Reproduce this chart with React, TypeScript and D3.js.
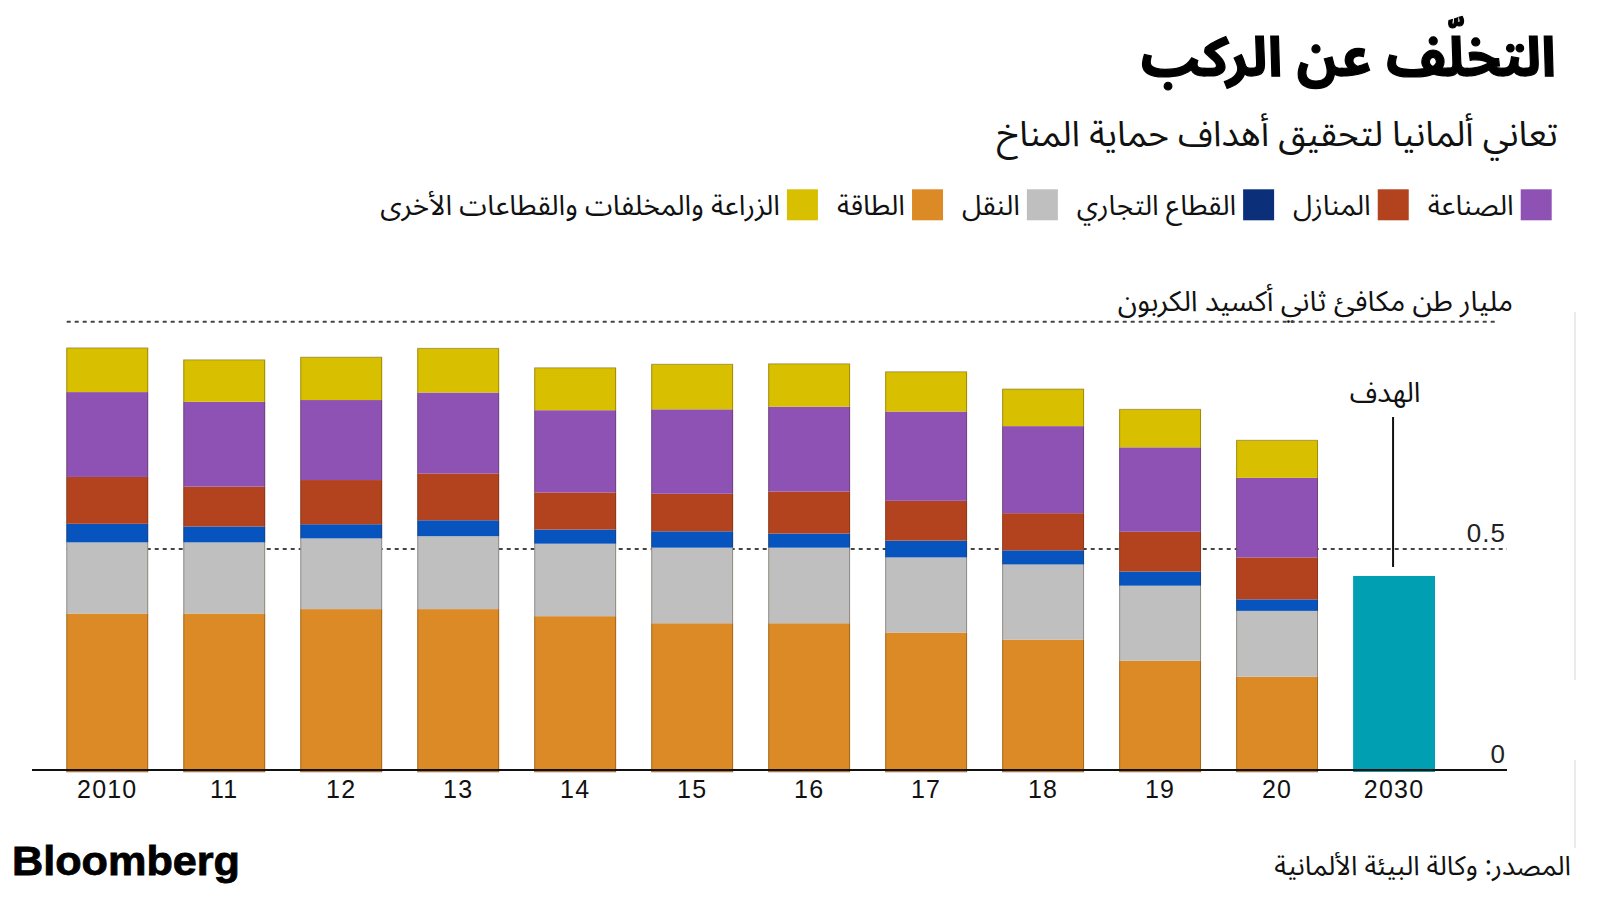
import React from "react";
import * as d3 from "d3";

const years = ["2010", "11", "12", "13", "14", "15", "16", "17", "18", "19", "20"];
const targetYear = "2030";
const targetValue = 0.439;

const energy = [0.354, 0.354, 0.364, 0.364, 0.348, 0.332, 0.332, 0.311, 0.295, 0.247, 0.211];
const transport = [0.161, 0.161, 0.16, 0.165, 0.164, 0.171, 0.171, 0.17, 0.17, 0.17, 0.149];
const commercial = [0.042, 0.036, 0.032, 0.036, 0.032, 0.037, 0.032, 0.038, 0.032, 0.032, 0.026];
const households = [0.106, 0.09, 0.1, 0.106, 0.084, 0.085, 0.095, 0.09, 0.084, 0.09, 0.095];
const industry = [0.192, 0.192, 0.181, 0.183, 0.186, 0.191, 0.192, 0.202, 0.197, 0.191, 0.18];
const agriculture = [0.1, 0.095, 0.097, 0.1, 0.096, 0.102, 0.097, 0.09, 0.084, 0.086, 0.085];

const seriesKeys = ["energy", "transport", "commercial", "households", "industry", "agriculture"];
const seriesValues: Record<string, number[]> = { energy, transport, commercial, households, industry, agriculture };

const legendOrder = ["industry", "households", "commercial", "transport", "energy", "agriculture"];
const legendLabels: Record<string, string> = {
  industry: "الصناعة",
  households: "المنازل",
  commercial: "القطاع التجاري",
  transport: "النقل",
  energy: "الطاقة",
  agriculture: "الزراعة والمخلفات والقطاعات الأخرى",
};

const yTicks = [0, 0.5];
const topRuleValue = 1.014;

const title = "التخلّف عن الركب";
const subtitle = "تعاني ألمانيا لتحقيق أهداف حماية المناخ";
const unitLabel = "مليار طن مكافئ ثاني أكسيد الكربون";
const targetLabel = "الهدف";
const sourceText = "المصدر: وكالة البيئة الألمانية";

const barColors: Record<string, string> = {
  energy: "#db8a25",
  transport: "#bfbfbf",
  commercial: "#0754be",
  households: "#b3431f",
  industry: "#8e52b5",
  agriculture: "#d8bf00",
};
const legendColors: Record<string, string> = { ...barColors, commercial: "#0b2f78" };
const targetColor = "#00a0b2";

const AR = "'Noto Sans Arabic', 'DejaVu Sans', sans-serif";
const NUM = "'Liberation Sans', Arial, Helvetica, sans-serif";

function measure(text: string, font: string): number {
  if (typeof document === "undefined") return text.length * 12;
  const c = document.createElement("canvas");
  const ctx = c.getContext("2d")!;
  ctx.font = font;
  return ctx.measureText(text).width;
}

export default function App() {
  const W = 1600;
  const H = 900;

  const rows = years.map((y, i) => {
    const r: any = { year: y };
    seriesKeys.forEach((k) => (r[k] = seriesValues[k][i]));
    return r;
  });
  const stacked = d3.stack().keys(seriesKeys)(rows);

  const x = d3
    .scaleBand<string>()
    .domain([...years, targetYear])
    .range([66.3, 1435])
    .paddingInner(0.3)
    .paddingOuter(0);
  const y = d3.scaleLinear().domain([0, 0.5]).range([770, 549]);

  // legend layout, right to left
  const legendFontSize = 28;
  const legendFont = `${legendFontSize}px ${AR}`;
  let right = 1551.7;
  const legendItems = legendOrder.map((k) => {
    const sw = 31;
    const sx = right - sw;
    const tx = sx - 7;
    const tw = measure(legendLabels[k], legendFont);
    right = tx - tw - 19;
    return { k, sx, tx };
  });

  return (
    <svg
      width={W}
      height={H}
      style={{ position: "absolute", left: 0, top: 0, background: "#fff" }}
    >
      <rect x={0} y={0} width={W} height={H} fill="#fff" />

      {/* title */}
      <text x={1556} y={76} textAnchor="end" fontFamily={AR} fontWeight={700} fontSize={55} fill="#000" stroke="#000" strokeWidth={1.2}>
        {title}
      </text>
      <text x={1558} y={146} textAnchor="end" fontFamily={AR} fontSize={35.5} fill="#111">
        {subtitle}
      </text>

      {/* legend */}
      {legendItems.map((it) => (
        <g key={it.k}>
          <rect x={it.sx} y={189.3} width={31} height={31} fill={legendColors[it.k]} />
          <text x={it.tx} y={215} textAnchor="end" fontFamily={AR} fontSize={legendFontSize} fill="#111">
            {legendLabels[it.k]}
          </text>
        </g>
      ))}

      {/* unit label */}
      <text x={1513} y={311} textAnchor="end" fontFamily={AR} fontSize={28.5} fill="#111">
        {unitLabel}
      </text>

      {/* grid rules */}
      <line
        x1={66.7}
        x2={1498}
        y1={y(topRuleValue)}
        y2={y(topRuleValue)}
        stroke="#444"
        strokeWidth={2}
        strokeDasharray="4,4"
      />
      <line x1={66.7} x2={1507} y1={y(0.5)} y2={y(0.5)} stroke="#444" strokeWidth={2} strokeDasharray="4,4" />

      {/* stacked bars */}
      {stacked.map((layer: any) => (
        <g key={layer.key}>
          {layer.map((d: any) => (
            <rect
              key={d.data.year}
              x={x(d.data.year)}
              y={y(d[1])}
              width={x.bandwidth()}
              height={y(d[0]) - y(d[1]) + (d[0] === 0 ? 2 : 0)}
              fill={barColors[layer.key]}
            />
          ))}
        </g>
      ))}
      {rows.map((r: any, i: number) => {
        const top = stacked[stacked.length - 1][i][1];
        return (
          <rect
            key={"o" + r.year}
            x={x(r.year)! + 0.5}
            y={y(top)}
            width={x.bandwidth() - 1}
            height={y(0) - y(top) + 2}
            fill="none"
            stroke="rgba(60,40,20,0.35)"
            strokeWidth={1}
          />
        );
      })}

      {/* target bar */}
      <rect
        x={x(targetYear)}
        y={y(targetValue)}
        width={x.bandwidth()}
        height={y(0) - y(targetValue) + 2}
        fill={targetColor}
      />
      <line
        x1={x(targetYear)! + x.bandwidth() / 2 - 1}
        x2={x(targetYear)! + x.bandwidth() / 2 - 1}
        y1={417}
        y2={y(targetValue) - 9}
        stroke="#111"
        strokeWidth={2}
      />
      <text
        x={x(targetYear)! + x.bandwidth() / 2 - 9}
        y={402}
        textAnchor="middle"
        fontFamily={AR}
        fontSize={28}
        fill="#111"
      >
        {targetLabel}
      </text>

      {/* axis */}
      <line x1={32} x2={1507} y1={y(0)} y2={y(0)} stroke="#111" strokeWidth={2} />
      {yTicks.map((t) => (
        <text key={t} x={1506} y={y(t) - 7} textAnchor="end" fontFamily={NUM} fontSize={26} letterSpacing={1} fill="#222">
          {String(t)}
        </text>
      ))}
      {[...years, targetYear].map((yr) => (
        <text
          key={yr}
          x={x(yr)! + x.bandwidth() / 2}
          y={798}
          textAnchor="middle"
          fontFamily={NUM}
          fontSize={25}
          letterSpacing={1.2}
          fill="#111"
        >
          {yr}
        </text>
      ))}

      {/* faint right edge artifact */}
      <line x1={1575} x2={1575} y1={312} y2={680} stroke="#e4e4e4" strokeWidth={1.5} />
      <line x1={1575} x2={1575} y1={760} y2={848} stroke="#e4e4e4" strokeWidth={1.5} />

      {/* footer */}
      <text
        x={12}
        y={875}
        fontFamily={NUM}
        fontWeight={900}
        fontSize={40}
        textLength={228}
        lengthAdjust="spacingAndGlyphs"
        fill="#000"
        stroke="#000"
        strokeWidth={0.8}
      >
        Bloomberg
      </text>
      <text x={1571} y={875} textAnchor="end" fontFamily={AR} fontSize={27} fill="#111">
        {sourceText}
      </text>
    </svg>
  );
}
